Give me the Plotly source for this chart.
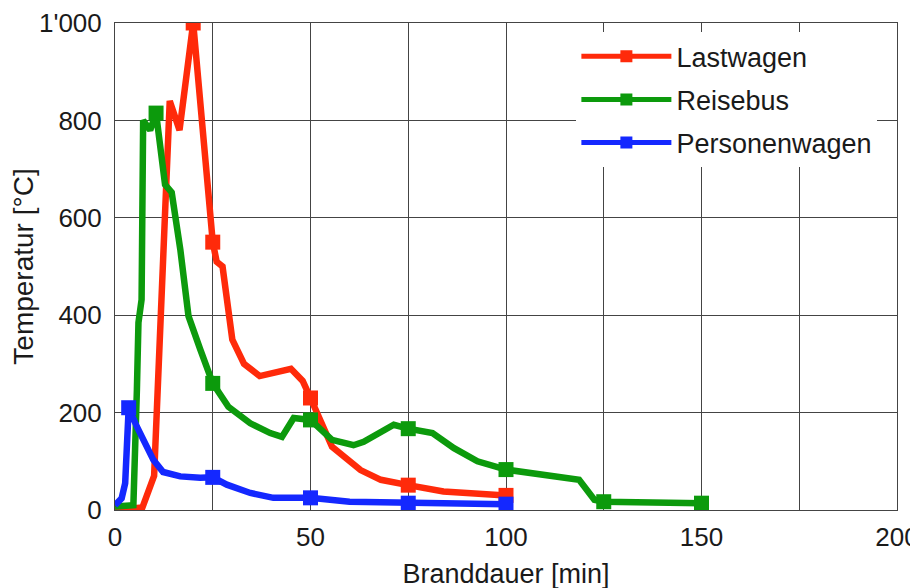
import plotly.graph_objects as go

# Lastwagen
lw_x = [0, 7, 10, 14, 16.5, 20, 25, 26, 27.5, 30, 33, 37, 45, 48, 50, 55.5, 62.8, 68, 75, 84, 100]
lw_y = [0, 5, 70, 840, 780, 1000, 550, 510, 500, 350, 300, 275, 290, 265, 230, 130, 82, 62, 51, 38, 30]
lw_mark = [20, 25, 50, 75, 100]

# Reisebus
rb_x = [0, 4.7, 5.6, 6, 6.8, 7.2, 9, 10.5, 12.8, 14.5, 16.7, 18.8, 21.8, 25, 29, 34.6, 39.7, 42.7,
        45.7, 50, 55.5, 61, 63.6, 71.3, 75, 81.2, 86.7, 92.7, 100, 109.8, 118.7, 122.6, 125, 150]
rb_y = [7, 10, 247, 385, 432, 800, 780, 815, 668, 652, 535, 398, 330, 260, 212, 178, 158, 150,
        189, 185, 144, 133, 140, 175, 167, 158, 127, 100, 83, 72, 62, 21, 17, 14]
rb_mark = [10.5, 25, 50, 75, 100, 125, 150]

# Personenwagen
pw_x = [0, 1.7, 2.6, 3.5, 5.6, 9.8, 12.3, 16.7, 21.8, 25, 28.6, 34.6, 40.5, 50, 60, 75, 100]
pw_y = [10, 24, 55, 210, 171, 103, 78, 69, 66, 67, 52, 35, 25, 25, 17, 14, 12]
pw_mark = [3.5, 25, 50, 75, 100]

y_ticks = [0, 200, 400, 600, 800, 1000]
y_ticktext = ["0", "200", "400", "600", "800", "1'000"]
x_ticks = [0, 50, 100, 150, 200]

series = [
    ("Lastwagen", lw_x, lw_y, lw_mark, "#ff2a0a"),
    ("Reisebus", rb_x, rb_y, rb_mark, "#0c9a0c"),
    ("Personenwagen", pw_x, pw_y, pw_mark, "#1428ff"),
]

fig = go.Figure()
for name, xs, ys, marks, col in series:
    sizes = [15 if x in marks else 0 for x in xs]
    fig.add_trace(go.Scatter(
        x=xs, y=ys, name=name, mode="lines+markers", legendgroup=name,
        line=dict(color=col, width=6.5),
        marker=dict(symbol="square", size=sizes, color=col, opacity=1, line=dict(width=0)),
    ))

font = "Liberation Sans, Arial, sans-serif"
# page body has an 8px margin, so margins are shifted by 8px
fig.update_layout(
    width=918, height=588,
    margin=dict(l=107, r=29, t=15, b=86, autoexpand=False),
    paper_bgcolor="white", plot_bgcolor="white",
    font=dict(family=font, size=26, color="#1a1a1a"),
    showlegend=True,
    legend=dict(
        x=0.590, y=0.981, xanchor="left", yanchor="top",
        bgcolor="white", borderwidth=0,
        font=dict(size=27, family=font, color="#1a1a1a"),
        itemsizing="constant", tracegroupgap=5, itemwidth=90,
    ),
    xaxis=dict(
        range=[0, 200], tickvals=x_ticks, showgrid=True, gridcolor="#444", gridwidth=1,
        minor=dict(dtick=25, showgrid=True, gridcolor="#444", gridwidth=1),
        showline=True, linecolor="#444", mirror=True, zeroline=False, automargin=False,
        ticks="", ticklabelstandoff=4,
        title=dict(text="Branddauer [min]", font=dict(size=27), standoff=12),
    ),
    yaxis=dict(
        range=[0, 1000], tickvals=y_ticks, ticktext=y_ticktext, showgrid=True,
        gridcolor="#444", gridwidth=1, showline=True, linecolor="#444", mirror=True,
        zeroline=False, ticks="", automargin=False, ticklabelstandoff=7,
        title=dict(text="Temperatur [°C]", font=dict(size=28), standoff=10),
    ),
)

fig.write_html("out.html")
